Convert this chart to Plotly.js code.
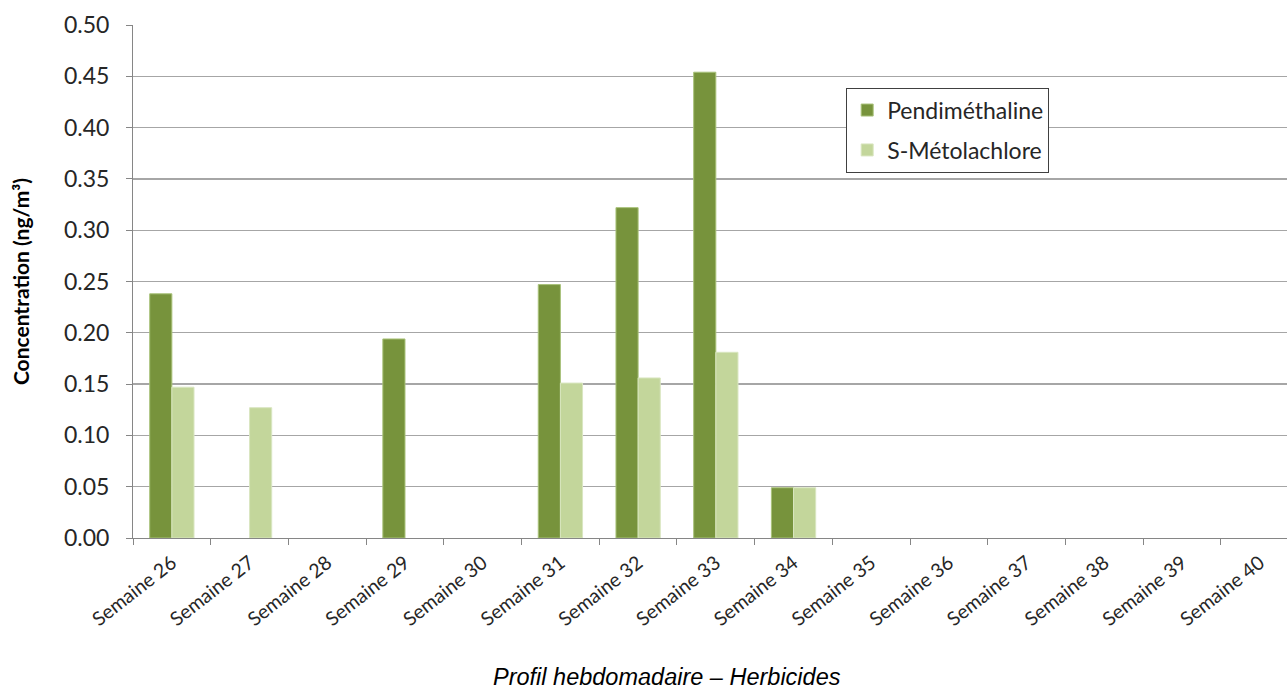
<!DOCTYPE html>
<html>
<head>
<meta charset="utf-8">
<script src="https://cdn.plot.ly/plotly-3.0.1.min.js"></script>
<style>
  html, body { margin: 0; padding: 0; background: #fff; overflow: hidden; }
  #chart { width: 1287px; height: 690px; }
</style>
</head>
<body>
<div id="chart"></div>
<script>
// Weekly herbicide concentrations (ng/m³)
const weeks = ["Semaine 26", "Semaine 27", "Semaine 28", "Semaine 29", "Semaine 30",
               "Semaine 31", "Semaine 32", "Semaine 33", "Semaine 34", "Semaine 35",
               "Semaine 36", "Semaine 37", "Semaine 38", "Semaine 39", "Semaine 40"];
const pendimethaline = [0.238, null, null, 0.194, null, 0.247, 0.322, 0.454, 0.049,
                        null, null, null, null, null, null];
const sMetolachlore  = [0.147, 0.127, null, null, null, 0.151, 0.156, 0.181, 0.049,
                        null, null, null, null, null, null];
const yTicks = [0, 0.05, 0.10, 0.15, 0.20, 0.25, 0.30, 0.35, 0.40, 0.45, 0.50];

const sans = "Lato, 'Open Sans', sans-serif";

const traces = [
  {
    type: "bar", name: "Pendiméthaline", x: weeks, y: pendimethaline,
    legendgroup: "a",
    marker: { color: "#77933C", line: { color: "#A9C27A", width: 1 } },
    hoverinfo: "x+y+name"
  },
  {
    type: "bar", name: "S-Métolachlore", x: weeks, y: sMetolachlore,
    legendgroup: "b",
    marker: { color: "#C3D69B", line: { color: "#D9E6C0", width: 1 } },
    hoverinfo: "x+y+name"
  }
];

const layout = {
  width: 1287, height: 690,
  margin: { l: 133, r: 0, t: 25, b: 152 },
  paper_bgcolor: "#fff", plot_bgcolor: "#fff",
  barmode: "group", bargap: 0.43, bargroupgap: 0,
  showlegend: true,
  legend: {
    x: 0.618, xanchor: "left", y: 0.878, yanchor: "top",
    bgcolor: "#fff", bordercolor: "#404040", borderwidth: 1,
    font: { family: sans, size: 23, color: "#262626" },
    traceorder: "grouped", tracegroupgap: 7,
    itemwidth: 30
  },
  xaxis: {
    type: "category",
    range: [-0.5, 14.35],
    tickson: "boundaries",
    ticks: "outside", ticklen: 6, tickcolor: "#868686", tickwidth: 1,
    showline: true, linecolor: "#868686", linewidth: 1,
    showgrid: false, zeroline: false,
    tickangle: -38,
    tickfont: { family: sans, size: 19.5, color: "#262626" },
    ticklabelstandoff: 5,
    fixedrange: true
  },
  yaxis: {
    range: [0, 0.5],
    tickvals: yTicks,
    tickformat: ".2f",
    ticks: "outside", ticklen: 6, tickcolor: "#868686", tickwidth: 1,
    showline: true, linecolor: "#868686", linewidth: 1,
    showgrid: true, gridcolor: "#A6A6A6", gridwidth: 1.3,
    zeroline: false,
    tickfont: { family: sans, size: 23, color: "#262626" },
    ticklabelstandoff: 12,
    title: {
      text: "<b>Concentration (ng/m³)</b>",
      font: { family: sans, size: 21, color: "#000" },
      standoff: 28
    },
    fixedrange: true
  },
  annotations: [
    {
      text: "<i>Profil hebdomadaire – Herbicides</i>",
      xref: "paper", yref: "paper",
      x: 0.463, y: -0.271, xanchor: "center", yanchor: "middle",
      showarrow: false,
      font: { family: "'Liberation Sans', Arial, sans-serif", size: 23.5, color: "#000" }
    }
  ]
};

Plotly.newPlot("chart", traces, layout, { displayModeBar: false, staticPlot: true });
</script>
</body>
</html>
